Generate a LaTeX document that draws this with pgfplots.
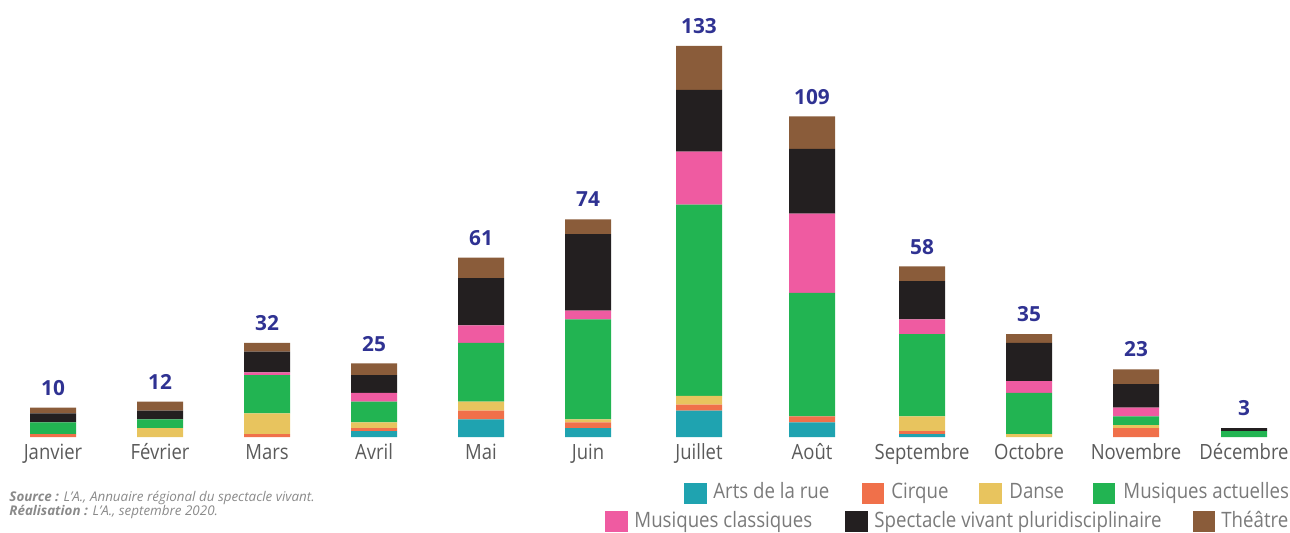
\documentclass[border=0pt]{standalone}
\usepackage{pgfplots}
\pgfplotsset{compat=1.18}
\usepackage{pgfplotstable}
\usepackage{fontspec}
\setmainfont{Open Sans}
\newfontfamily\labelfont{Open Sans}[FakeStretch=0.88]
\definecolor{cteal}{HTML}{1FA3B0}
\definecolor{corange}{HTML}{F0704A}
\definecolor{cyellow}{HTML}{E8C45E}
\definecolor{cgreen}{HTML}{22B452}
\definecolor{cpink}{HTML}{EF5BA1}
\definecolor{cblack}{HTML}{231F20}
\definecolor{cbrown}{HTML}{8A5C3A}
\definecolor{totblue}{HTML}{2F3292}
\definecolor{monthgray}{HTML}{5A5A5A}
\definecolor{leggray}{HTML}{7A7A7A}
\definecolor{srcgray}{HTML}{8A8A8A}

% x = horizontal position of each month (chart layout units)
\pgfplotstableread{
x a b c d e f g t
53 0 1 0 4 0 3 2 10
160 0 0 3 3 0 3 3 12
267 0 1 7 13 1 7 3 32
374 2 1 2 7 3 6 4 25
481 6 3 3 20 6 16 7 61
588 3 2 1 34 3 26 5 74
699 9 2 3 65 18 21 15 133
812 5 2 0 42 27 22 11 109
922 1 1 5 28 5 13 5 58
1029 0 0 1 14 4 13 3 35
1136 0 3 1 3 3 8 5 23
1244 0 0 0 2 0 1 0 3
}\data

\begin{document}
\begin{tikzpicture}
\begin{axis}[
  scale only axis, width=645pt, height=218.5pt,
  at={(0pt,0pt)}, anchor=south west,
  xmin=0, xmax=1290, ymin=0, ymax=148.6,
  ybar stacked, bar width=23pt,
  axis line style={draw=none},
  major tick length=0pt,
  ytick=\empty,
  xtick={53,160,267,374,481,588,699,812,922,1029,1136,1244},
  xticklabels={Janvier,Février,Mars,Avril,Mai,Juin,Juillet,Août,Septembre,Octobre,Novembre,Décembre},
  xticklabel style={anchor=base, yshift=-11.15pt, inner sep=0pt,
    font=\labelfont\fontsize{10.5}{12}\selectfont, text=monthgray},
  clip=false,
]
\addplot[fill=cteal, draw=none] table[x=x,y=a] {\data};
\addplot[fill=corange, draw=none] table[x=x,y=b] {\data};
\addplot[fill=cyellow, draw=none] table[x=x,y=c] {\data};
\addplot[fill=cgreen, draw=none] table[x=x,y=d] {\data};
\addplot[fill=cpink, draw=none] table[x=x,y=e] {\data};
\addplot[fill=cblack, draw=none] table[x=x,y=f] {\data};
\addplot[fill=cbrown, draw=none] table[x=x,y=g] {\data};
\end{axis}
\begin{axis}[
  scale only axis, width=645pt, height=218.5pt,
  at={(0pt,0pt)}, anchor=south west,
  xmin=0, xmax=1290, ymin=0, ymax=148.6,
  hide axis, clip=false,
]
\addplot[only marks, mark=none, point meta=explicit,
  nodes near coords={\pgfmathprintnumber[assume math mode=true]{\pgfplotspointmeta}},
  every node near coord/.append style={anchor=base, yshift=6.2pt, inner sep=0pt,
    font=\bfseries\fontsize{10.4}{12}\selectfont, text=totblue}]
  table[x=x,y=t,meta=t] {\data};
\end{axis}
\begin{scope}[x=0.5pt,y=-0.5pt,shift={(0pt,218.5pt)},
  lt/.style={anchor=base west, inner sep=0pt, font=\labelfont\fontsize{10.6}{12}\selectfont, text=leggray},
  st/.style={anchor=base west, inner sep=0pt, font=\fontsize{6.7}{8}\selectfont\itshape, text=srcgray}]
  % row 1
  \fill[cteal] (684,482.5) rectangle (707,504);
  \node[lt] at (713,498.7) {Arts de la rue};
  \fill[corange] (862,482.5) rectangle (884,504);
  \node[lt] at (891,498.7) {Cirque};
  \fill[cyellow] (979,482.5) rectangle (1002,504);
  \node[lt] at (1009,498.7) {Danse};
  \fill[cgreen] (1093,482.5) rectangle (1115,504);
  \node[lt] at (1123,498.7) {Musiques actuelles};
  % row 2
  \fill[cpink] (605,510.5) rectangle (628,532);
  \node[lt] at (634,527) {Musiques classiques};
  \fill[cblack] (845,510.5) rectangle (868,532);
  \node[lt] at (874,527) {Spectacle vivant pluridisciplinaire};
  \fill[cbrown] (1193,510.5) rectangle (1215,532);
  \node[lt] at (1221,527) {Théâtre};
  % source
  \node[st] at (9,501.5) {\textbf{Source :} L’A., Annuaire régional du spectacle vivant.};
  \node[st] at (9,515) {\textbf{Réalisation :} L’A., septembre 2020.};
\end{scope}
\pgfresetboundingbox
\path (0pt,-47.5pt) rectangle (645pt,218.5pt);
\end{tikzpicture}
\end{document}
